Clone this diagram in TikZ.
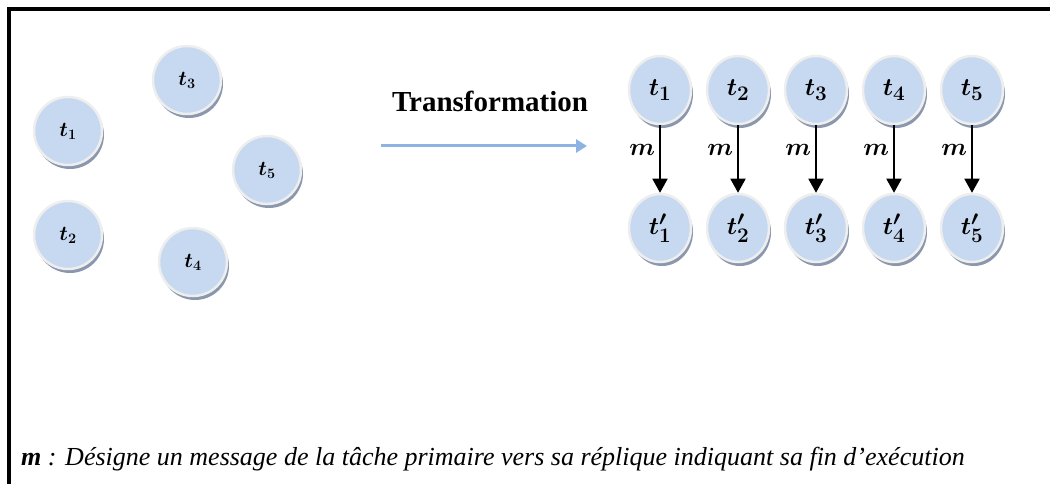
\documentclass[tikz,border=0pt]{standalone}
\usepackage{amsmath}
\usepackage{bm}
\usepackage{fontspec}
\setmainfont{Liberation Serif}
\usetikzlibrary{arrows.meta,shapes.geometric,shadows}

\definecolor{taskblue}{HTML}{C6D9F0}
\definecolor{taskrim}{HTML}{EEEEEE}
\definecolor{taskshade}{HTML}{8A97AD}
\definecolor{flowblue}{HTML}{8DB3E2}

\tikzset{
  task/.style={circle, fill=taskblue, draw=taskrim, line width=2.5pt,
    minimum size=68pt, inner sep=0pt, font=\fontsize{21}{21}\selectfont,
    drop shadow={shadow xshift=2pt, shadow yshift=-4pt, fill=taskshade, opacity=1}},
  replica/.style={task, ellipse, minimum width=62pt, minimum height=68pt,
    font=\fontsize{29}{29}\selectfont},
  msg/.style={-{Triangle[width=15pt,length=14pt]}, line width=1.8pt},
  flow/.style={-{Triangle[width=13pt,length=11pt]}, line width=3pt, flowblue},
}

\begin{document}
\begin{tikzpicture}[x=1pt,y=-1pt]
  \useasboundingbox (0,0) rectangle (1050,484);

  % Frame
  \draw[line width=4pt, line join=miter] (9,484) -- (9,9.5) -- (1050,9.5);

  % Tasks before
  \node[task] (l1) at (68,131) {$\bm{t_1}$};
  \node[task] (l2) at (68,235) {$\bm{t_2}$};
  \node[task] (l3) at (187,80) {$\bm{t_3}$};
  \node[task] (l4) at (193,262) {$\bm{t_4}$};
  \node[task] (l5) at (267,170) {$\bm{t_5}$};

  % Transformation
  \node[font=\bfseries\fontsize{29}{29}\selectfont] (trans) at (490,101) {Transformation};
  \coordinate (fs) at (381,146);
  \coordinate (fe) at (587,146);
  \draw[flow] (fs) -- (fe);

  % Primary tasks and replicas
  \foreach \i in {1,...,5} {
    \node[replica] (p\i) at ({660+78*(\i-1)},90) {$\bm{t_{\i}}$};
    \node[replica] (r\i) at ({660+78*(\i-1)},228) {$\bm{t'_{\i}}$};
    \draw[msg] (p\i) -- node[left, pos=0.37, inner sep=4pt, font=\fontsize{23}{23}\selectfont] {$\bm{m}$} (r\i);
  }

  % Legend
  \node[anchor=base west, inner sep=0pt, font=\fontsize{26}{26}\selectfont] (legend) at (21,465)
    {\textbf{\textit{m}}\textit{ : Désigne un message de la tâche primaire vers sa réplique indiquant sa fin d’exécution}};
\end{tikzpicture}
\end{document}
